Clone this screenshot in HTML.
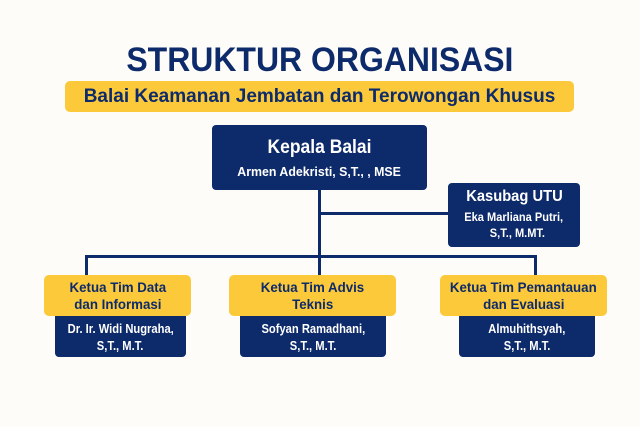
<!DOCTYPE html>
<html><head><meta charset="utf-8"><style>
body{margin:0;width:640px;height:427px;background:#fdfcf8;position:relative;overflow:hidden;font-family:"Liberation Sans",sans-serif}
.a{position:absolute}
.c{display:flex;flex-direction:column;align-items:center;justify-content:center;text-align:center}
.n{background:#0d2a6b;color:#fff;border-radius:4px;font-weight:bold}
.y{background:#fbc93a;color:#0d2a6b;border-radius:5px;font-weight:bold}
.s{display:inline-block;transform:scaleX(.84);white-space:nowrap}
.l{position:absolute;background:#0d2a6b}
</style></head><body>
<div class="a c" style="left:0;width:640px;top:42px;height:36px;color:#0d2a6b;font-weight:bold;font-size:34px"><span class="s" style="transform:scaleX(.94)">STRUKTUR ORGANISASI</span></div>
<div class="a y c" style="left:65px;width:509px;top:81px;height:31px;font-size:19px"><span class="s" style="transform:scaleX(1.0)">Balai Keamanan Jembatan dan Terowongan Khusus</span></div>
<div class="l" style="left:318px;top:190px;width:3px;height:86px"></div>
<div class="l" style="left:319px;top:212px;width:130px;height:3px"></div>
<div class="l" style="left:85px;top:255px;width:452px;height:3px"></div>
<div class="l" style="left:85px;top:255px;width:3px;height:22px"></div>
<div class="l" style="left:534px;top:255px;width:3px;height:22px"></div>
<div class="a n c" style="left:212px;width:215px;top:125px;height:65px"><span class="s" style="font-size:19px;transform:scaleX(.92)">Kepala Balai</span><span class="s" style="font-size:13px;margin-top:5px;transform:scaleX(.95)">Armen Adekristi, S,T., , MSE</span></div>
<div class="a n c" style="left:448px;width:132px;top:183px;height:64px;line-height:16px"><span class="s" style="font-size:16px;margin-bottom:4px;transform:scaleX(.92)">Kasubag UTU</span><span class="s" style="font-size:12px;transform:scaleX(.92)">Eka Marliana Putri,</span><span class="s" style="font-size:12px;transform:scaleX(.92)">&nbsp;&nbsp;S,T., M.MT.</span></div>
<div class="a n c" style="left:55px;width:131px;top:310px;height:47px;padding-top:6px;box-sizing:border-box;font-size:13px;line-height:17px"><span class="s" style="transform:scaleX(.86)">Dr. Ir. Widi Nugraha,</span><span class="s" style="transform:scaleX(.86)">S,T., M.T.</span></div>
<div class="a n c" style="left:240px;width:146px;top:310px;height:47px;padding-top:6px;box-sizing:border-box;font-size:13px;line-height:17px"><span class="s" style="transform:scaleX(.86)">Sofyan Ramadhani,</span><span class="s" style="transform:scaleX(.86)">S,T., M.T.</span></div>
<div class="a n c" style="left:459px;width:136px;top:310px;height:47px;padding-top:6px;box-sizing:border-box;font-size:13px;line-height:17px"><span class="s" style="transform:scaleX(.86)">Almuhithsyah,</span><span class="s" style="transform:scaleX(.86)">S,T., M.T.</span></div>
<div class="a y c" style="left:44px;width:147px;top:275px;height:41px;font-size:14px;line-height:17px"><span class="s" style="transform:scaleX(.95)">Ketua Tim Data</span><span class="s" style="transform:scaleX(.95)">dan Informasi</span></div>
<div class="a y c" style="left:229px;width:167px;top:275px;height:41px;font-size:14px;line-height:17px"><span class="s" style="transform:scaleX(.95)">Ketua Tim Advis</span><span class="s" style="transform:scaleX(.95)">Teknis</span></div>
<div class="a y c" style="left:440px;width:167px;top:275px;height:41px;font-size:14px;line-height:17px"><span class="s" style="transform:scaleX(.95)">Ketua Tim Pemantauan</span><span class="s" style="transform:scaleX(.95)">dan Evaluasi</span></div>
</body></html>
